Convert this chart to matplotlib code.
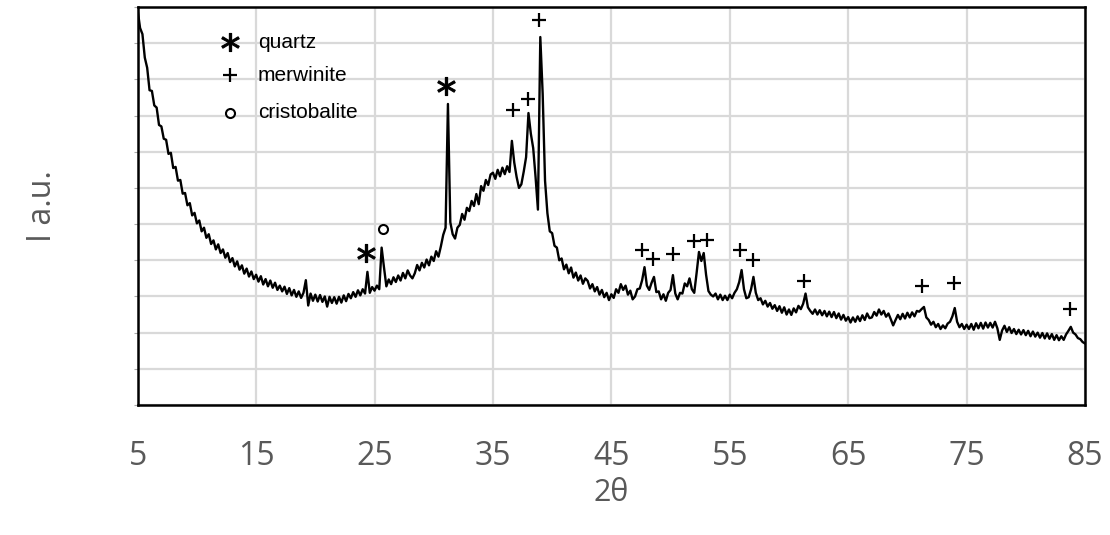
import numpy as np
import matplotlib
matplotlib.use("Agg")
import matplotlib.pyplot as plt

# XRD scan, 5-85 deg 2theta, 0.2 deg step (intensity in arbitrary units)
scan_start = 5.0
scan_step = 0.2
intensity = [
    10.9, 10.42, 10.25, 9.6, 9.32, 8.7, 8.68, 8.28, 8.22, 7.74,      # 5.0
    7.7, 7.36, 7.33, 6.94, 6.97, 6.55, 6.58, 6.2, 6.22, 5.84,        # 7.0
    5.86, 5.52, 5.58, 5.24, 5.31, 5.02, 5.1, 4.8, 4.9, 4.62,         # 9.0
    4.72, 4.45, 4.55, 4.3, 4.44, 4.2, 4.3, 4.07, 4.2, 3.95,          # 11.0
    4.06, 3.83, 3.97, 3.74, 3.86, 3.63, 3.77, 3.55, 3.69, 3.48,      # 13.0
    3.6, 3.41, 3.56, 3.33, 3.48, 3.28, 3.44, 3.24, 3.38, 3.18,       # 15.0
    3.3, 3.14, 3.27, 3.07, 3.23, 3.03, 3.18, 2.99, 3.14, 2.96,       # 17.0
    3.1, 3.45, 2.75, 3.08, 2.88, 3.05, 2.86, 3.04, 2.85, 3.0,        # 19.0
    2.72, 2.99, 2.82, 2.98, 2.8, 2.99, 2.83, 3.03, 2.87, 3.07,       # 21.0
    2.95, 3.12, 2.99, 3.17, 3.03, 3.2, 3.08, 3.68, 3.1, 3.26,        # 23.0
    3.16, 3.3, 3.2, 4.35, 3.8, 3.28, 3.47, 3.34, 3.53, 3.4,          # 25.0
    3.58, 3.44, 3.65, 3.5, 3.72, 3.58, 3.5, 3.64, 3.87, 3.72,        # 27.0
    3.93, 3.8, 4.02, 3.86, 4.1, 3.98, 4.25, 4.1, 4.38, 4.7,          # 29.0
    4.9, 8.32, 5.05, 4.72, 4.6, 4.9, 4.98, 5.28, 5.12, 5.45,         # 31.0
    5.36, 5.64, 5.5, 5.83, 5.55, 6.05, 5.92, 6.22, 6.08, 6.37,       # 33.0
    6.42, 6.25, 6.5, 6.32, 6.56, 6.38, 6.6, 6.44, 7.3, 6.7,          # 35.0
    6.3, 6.0, 6.1, 6.45, 6.85, 8.07, 7.5, 7.1, 6.3, 5.4,             # 37.0
    10.17, 8.6, 6.2, 5.3, 4.8, 4.75, 4.4, 4.35, 4.0, 4.05,           # 39.0
    3.75, 3.88, 3.64, 3.8, 3.52, 3.66, 3.44, 3.58, 3.35, 3.5,        # 41.0
    3.43, 3.22, 3.34, 3.14, 3.26, 3.05, 3.18, 2.98, 3.1, 2.9,        # 43.0
    3.06, 2.96, 3.2, 3.1, 3.34, 3.18, 3.3, 3.05, 3.16, 2.92,         # 45.0
    3.0, 3.2, 3.22, 3.45, 3.81, 3.3, 3.18, 3.38, 3.54, 3.12,         # 47.0
    3.14, 2.92, 3.06, 2.88, 3.1, 3.18, 3.59, 3.08, 2.92, 3.1,        # 49.0
    3.08, 3.36, 3.28, 3.5, 3.2, 3.1, 3.65, 4.23, 3.98, 4.2,          # 51.0
    3.6, 3.15, 3.05, 3.0, 3.08, 2.92, 3.05, 2.9, 3.02, 2.9,          # 53.0
    3.05, 2.95, 3.1, 3.2, 3.4, 3.73, 3.2, 2.95, 2.98, 3.2,           # 55.0
    3.54, 3.1, 2.9, 2.95, 2.78, 2.88, 2.72, 2.82, 2.66, 2.76,        # 57.0
    2.6, 2.73, 2.55, 2.7, 2.5, 2.64, 2.49, 2.67, 2.56, 2.74,         # 59.0
    2.65, 2.8, 3.08, 2.7, 2.6, 2.52, 2.64, 2.5, 2.62, 2.48,          # 61.0
    2.6, 2.45, 2.58, 2.43, 2.57, 2.4, 2.53, 2.36, 2.49, 2.33,        # 63.0
    2.43, 2.28, 2.42, 2.3, 2.45, 2.32, 2.48, 2.35, 2.53, 2.4,        # 65.0
    2.42, 2.57, 2.47, 2.64, 2.5, 2.6, 2.44, 2.53, 2.37, 2.2,         # 67.0
    2.35, 2.49, 2.37, 2.52, 2.39, 2.55, 2.42, 2.56, 2.45, 2.6,       # 69.0
    2.58, 2.65, 2.71, 2.42, 2.35, 2.22, 2.3, 2.15, 2.24, 2.1,        # 71.0
    2.2, 2.12, 2.25, 2.3, 2.45, 2.68, 2.3, 2.15, 2.24, 2.1,          # 73.0
    2.22, 2.1, 2.24, 2.08, 2.26, 2.12, 2.27, 2.11, 2.28, 2.14,       # 75.0
    2.27, 2.14, 2.3, 2.12, 1.8, 2.06, 2.19, 2.02, 2.15, 1.99,        # 77.0
    2.1, 1.96, 2.08, 1.95, 2.07, 1.93, 2.05, 1.9, 2.03, 1.89,        # 79.0
    2.0, 1.86, 1.99, 1.84, 1.98, 1.83, 1.96, 1.8, 1.93, 1.79,        # 81.0
    1.9, 1.8, 1.95, 2.05, 2.16, 2.0, 1.95, 1.85, 1.82, 1.74,         # 83.0
    1.7,                                                             # 85.0
]
two_theta = scan_start + scan_step * np.arange(len(intensity))

x_ticks = [5, 15, 25, 35, 45, 55, 65, 75, 85]

# phase markers above the peaks
peak_pos = [24.26, 25.74, 31.06, 36.67, 37.94, 38.87, 47.61, 48.52, 50.21,
            51.94, 53.04, 55.83, 56.93, 61.24, 71.22, 73.92, 83.73]
peak_mark_y = [4.2, 4.86, 8.82, 8.15, 8.46, 10.64, 4.28, 4.04, 4.17,
               4.53, 4.56, 4.28, 4.01, 3.43, 3.29, 3.37, 2.65]
peak_phase = ["quartz", "cristobalite", "quartz", "merwinite", "merwinite", "merwinite",
              "merwinite", "merwinite", "merwinite", "merwinite", "merwinite",
              "merwinite", "merwinite", "merwinite", "merwinite", "merwinite", "merwinite"]

phases = ["quartz", "merwinite", "cristobalite"]
phase_style = {
    "quartz": dict(marker="$*$", markersize=13, color="black", markeredgewidth=0.8),
    "merwinite": dict(marker="+", markersize=10, color="black", markeredgewidth=1.6),
    "cristobalite": dict(marker="o", markersize=6.5, color="black",
                         markerfacecolor="white", markeredgewidth=1.5),
}

fig = plt.figure(figsize=(11.1, 5.35), dpi=100)
ax = fig.add_axes([137.7 / 1110, 130 / 535, 947.3 / 1110, 398 / 535])

ax.plot(two_theta, intensity, color="black", linewidth=1.7, zorder=3)

for x, y, ph in zip(peak_pos, peak_mark_y, peak_phase):
    ax.plot([x], [y], linestyle="none", zorder=4, **phase_style[ph])

# legend drawn by hand
leg_y = [0.912, 0.829, 0.734]
for ph, ly in zip(phases, leg_y):
    ax.plot([0.0975], [ly], transform=ax.transAxes, linestyle="none", **phase_style[ph])
    ax.text(0.127, ly, ph, transform=ax.transAxes, va="center", ha="left",
            fontsize=15, family="Liberation Sans", color="black")

ax.set_xlim(5, 85)
ax.set_ylim(0, 11)
ax.set_xticks(x_ticks)
ax.set_yticks(np.arange(0, 12, 1))
ax.set_yticklabels([])
ax.grid(True, color="#d9d9d9", linewidth=1.6)
ax.set_axisbelow(True)

ax.tick_params(axis="x", length=0, pad=25, labelsize=23, labelcolor="#595959")
ax.tick_params(axis="y", length=3, width=0.8, color="#aaaaaa", direction="out")
for lbl in ax.get_xticklabels():
    lbl.set_family("Open Sans")

for sp in ax.spines.values():
    sp.set_linewidth(1.8)
    sp.set_color("black")

ax.set_xlabel("2θ", fontsize=22, family="Open Sans", color="#595959", labelpad=4)
ax.set_ylabel("I a.u.", fontsize=23, family="Open Sans", color="#595959", labelpad=50)

fig.savefig("out.png", dpi=100)
